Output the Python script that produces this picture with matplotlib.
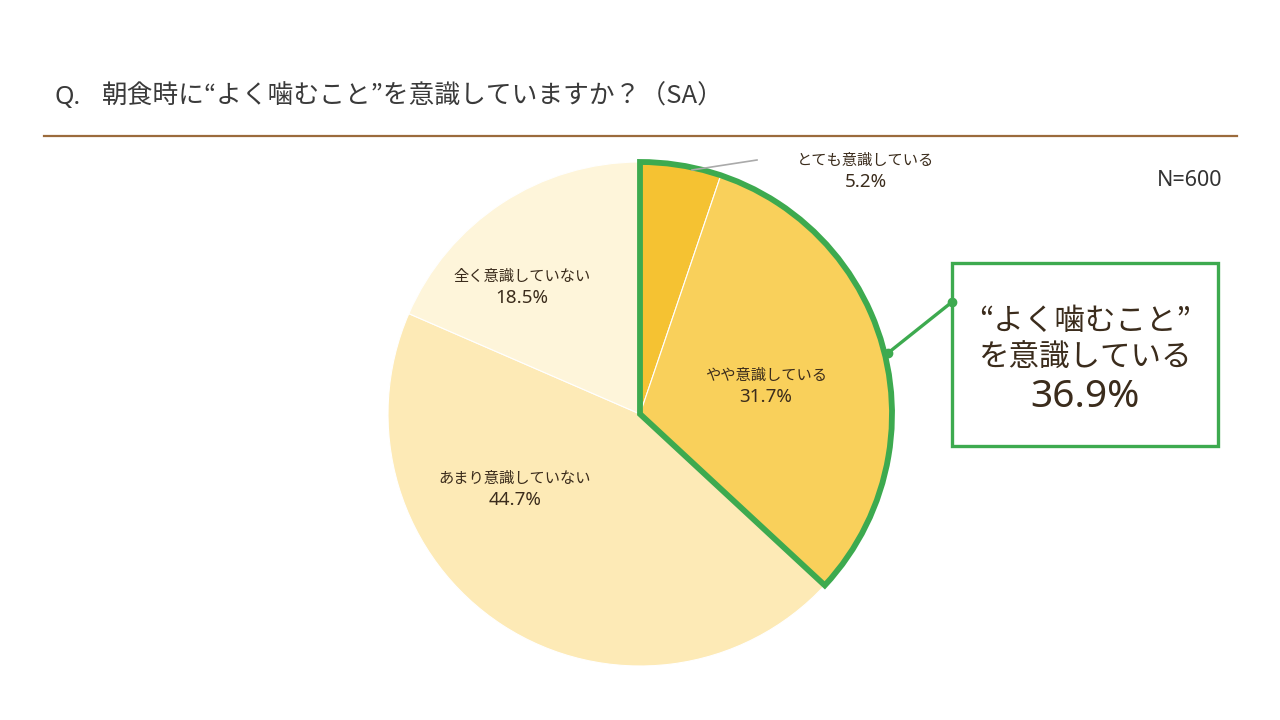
import matplotlib.pyplot as plt
from matplotlib.patches import Rectangle

plt.rcParams['font.family'] = ['Noto Sans', 'Noto Sans CJK JP', 'DejaVu Sans']
CJK = ['Noto Sans CJK JP', 'DejaVu Sans']

# data
labels = ['とても意識している', 'やや意識している', 'あまり意識していない', '全く意識していない']
values = [5.2, 31.7, 44.7, 18.5]
colors = ['#F5C232', '#F9D05B', '#FDEAB6', '#FEF5DA']
title_q = 'Q.'
title = '朝食時に“よく噛むこと”を意識していますか？（SA）'
n_text = 'N=600'

aware = round(values[0] + values[1], 1)
text_col = '#3b2c1c'
green = '#3DAA4F'

fig = plt.figure(figsize=(12.8, 7.2), dpi=100)
ax = fig.add_axes([0, 0, 1, 1])

cx, cy, r = 640, 720 - 414, 252

wedges, _ = ax.pie(values, colors=colors, startangle=90, counterclock=False,
                   center=(cx, cy), radius=r, frame=True,
                   wedgeprops=dict(edgecolor='white', linewidth=0.8))

# outline of the "aware" group
outline, _ = ax.pie([aware, 100 - aware], colors=['none', 'none'], startangle=90,
                    counterclock=False, center=(cx, cy), radius=r, frame=True,
                    wedgeprops=dict(linewidth=4.2, joinstyle='miter'))
outline[0].set_edgecolor(green)
outline[1].set_edgecolor('none')
outline[0].set_zorder(5)

ax.set_xlim(0, 1280)
ax.set_ylim(0, 720)
ax.set_aspect('equal')
ax.axis('off')

# labels inside / outside
label_pos = [(866, 160), (766, 375), (515, 478), (522, 276)]
for lab, val, (x, y) in zip(labels, values, label_pos):
    ax.text(x, 720 - y, lab, ha='center', va='center', family=CJK,
            fontsize=11, color=text_col, zorder=6)
    ax.text(x, 720 - y - 22, f'{val}%', ha='center', va='center',
            fontsize=13.5, color=text_col, zorder=6)

ax.plot([692, 757], [720 - 170, 720 - 160], color='#aaaaaa', lw=1.2, zorder=6)

# title and rule
fig.text(55 / 1280, 1 - 97 / 720, title_q, ha='left', va='center',
         fontsize=18, color='#3a3a3a')
fig.text(102 / 1280, 1 - 97 / 720, title, ha='left', va='center', family=CJK,
         fontsize=18.5, color='#3a3a3a')
ax.plot([44, 1237], [720 - 136, 720 - 136], color='#9b6b3c', lw=1.6)
ax.text(1222, 720 - 180, n_text, ha='right', va='center', fontsize=15.5, color='#333333')

# callout box
ax.add_patch(Rectangle((952, 720 - 446), 266, 183, fill=False, edgecolor=green,
                       lw=2.4, zorder=6))
ax.text(1085, 720 - 322, '“よく噛むこと”', ha='center', va='center', family=CJK,
        fontsize=22, color=text_col, zorder=6)
ax.text(1085, 720 - 357, 'を意識している', ha='center', va='center', family=CJK,
        fontsize=22, color=text_col, zorder=6)
ax.text(1085, 720 - 397, f'{aware}%', ha='center', va='center',
        fontsize=28, color=text_col, zorder=6)
ax.plot([952, 888], [720 - 302, 720 - 353], color=green, lw=2.4, zorder=6)
ax.plot([952, 888], [720 - 302, 720 - 353], 'o', color=green, ms=6, zorder=7)

fig.savefig('out.png', dpi=100)
